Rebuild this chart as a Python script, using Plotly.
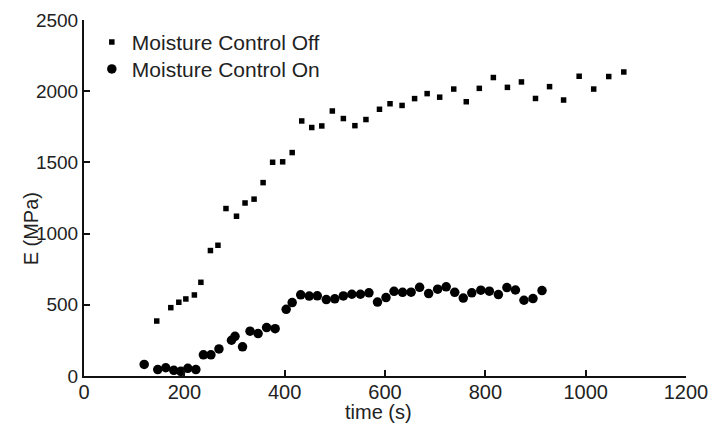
import plotly.graph_objects as go

# Moisture Control Off
off_time = [145, 173, 189, 203, 220, 233, 252, 267, 283, 304, 321, 339, 357, 376, 396, 415,
            434, 454, 474, 495, 517, 540, 562, 589, 610, 634, 659, 684, 709, 737, 762, 788,
            816, 844, 872, 900, 928, 956, 987, 1016, 1046, 1076]
off_E = [386, 480, 518, 541, 569, 658, 881, 918, 1176, 1122, 1215, 1242, 1358, 1501, 1504, 1569,
         1791, 1745, 1756, 1861, 1808, 1758, 1801, 1873, 1912, 1900, 1948, 1983, 1958, 2015, 1926, 2020,
         2096, 2027, 2065, 1949, 2032, 1938, 2105, 2015, 2103, 2135]

# Moisture Control On
on_time = [120, 147, 163, 179, 193, 207, 223, 238, 253, 269, 294, 301, 316, 331, 347, 364,
           381, 403, 415, 432, 449, 465, 483, 500, 517, 534, 551, 568, 585, 602, 618, 635,
           652, 669, 687, 705, 722, 739, 756, 773, 791, 808, 826, 843, 860, 877, 895, 913]
on_E = [81, 45, 58, 40, 33, 54, 45, 149, 149, 190, 251, 279, 205, 315, 298, 340,
        332, 468, 516, 570, 561, 563, 537, 542, 562, 574, 574, 584, 519, 551, 595, 588,
        589, 623, 579, 610, 626, 588, 547, 584, 603, 596, 572, 621, 604, 532, 544, 600]

x_ticks = [0, 200, 400, 600, 800, 1000, 1200]
y_ticks = [0, 500, 1000, 1500, 2000, 2500]

FONT = "Liberation Sans, Arial, sans-serif"
TXT = "#222"

fig = go.Figure()
fig.add_trace(go.Scatter(
    x=off_time, y=off_E, mode="markers", name="Moisture Control Off",
    marker=dict(symbol="square", size=5.5, color="black"), legend="legend",
))
fig.add_trace(go.Scatter(
    x=on_time, y=on_E, mode="markers", name="Moisture Control On",
    marker=dict(symbol="circle", size=9.5, color="black"), legend="legend2",
))

axis_common = dict(
    showline=True, linecolor="#111", linewidth=2,
    ticks="inside", ticklen=6, tickwidth=2, tickcolor="#111",
    showgrid=False, zeroline=False, automargin=False,
)

leg_common = dict(xanchor="left", yanchor="middle", bgcolor="rgba(0,0,0,0)",
                  font=dict(family=FONT, size=21, color=TXT), itemsizing="trace")

fig.update_layout(
    width=709, height=423,
    margin=dict(l=84, r=23, t=20, b=47),
    paper_bgcolor="white", plot_bgcolor="white",
    font=dict(family=FONT, size=20, color=TXT),
    showlegend=True,
    legend=dict(x=0.013, y=0.9374, **leg_common),
    legend2=dict(x=0.013, y=0.8615, **leg_common),
    xaxis=dict(range=[0, 1200], tickvals=x_ticks, ticktext=[str(v) for v in x_ticks],
               tickfont=dict(family=FONT, size=20, color=TXT), ticklabelstandoff=-3,
               **axis_common),
    yaxis=dict(range=[0, 2500], tickvals=y_ticks, ticktext=[str(v) for v in y_ticks],
               tickfont=dict(family=FONT, size=19, color=TXT),
               **axis_common),
    annotations=[
        dict(text="E (MPa)", textangle=-90, xref="paper", yref="paper",
             x=-0.088, y=0.412, xanchor="center", yanchor="middle",
             showarrow=False, font=dict(family=FONT, size=20, color=TXT)),
        dict(text="time (s)", xref="paper", yref="paper",
             x=0.49, y=-0.1003, xanchor="center", yanchor="middle",
             showarrow=False, font=dict(family=FONT, size=20, color=TXT)),
    ],
)

fig.write_html(
    "out.html",
    config={"displayModeBar": False},
    post_script="document.body.style.margin='0';document.body.style.overflow='hidden';",
)
